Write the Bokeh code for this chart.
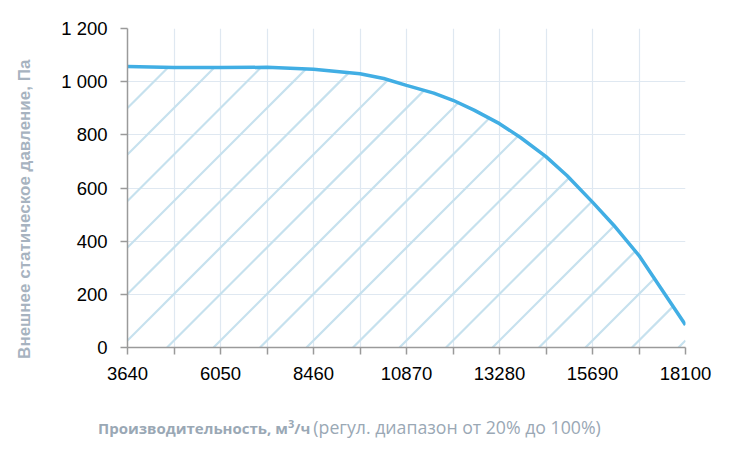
import numpy as np
from bokeh.plotting import figure
from bokeh.models import FixedTicker, Div
from bokeh.layouts import column
from bokeh.embed import file_html
from bokeh.resources import INLINE

# ---- data ----
flow = [3640, 4845, 6050, 7255, 8460, 9665, 10280, 10870, 11577, 12075, 12621,
        13280, 13824, 14485, 15033, 15690, 16240, 16895, 17450, 18100]
pressure = [1057, 1053, 1053, 1054, 1047, 1030, 1012, 986, 957, 930, 893,
            842, 790, 718, 646, 547, 460, 346, 226, 85]
x_ticks = [3640, 4845, 6050, 7255, 8460, 9665, 10870, 12075, 13280, 14485, 15690, 16895, 18100]
x_labels = ["3640", "", "6050", "", "8460", "", "10870", "", "13280", "", "15690", "", "18100"]
y_ticks = [0, 200, 400, 600, 800, 1000, 1200]
y_labels = ["0", "200", "400", "600", "800", "1 000", "1 200"]
y_title = "Внешнее статическое давление, Па"
x_title_bold = "Производительность, м"
x_title_sup = "3"
x_title_bold2 = "/ч"
x_title_regular = "(регул. диапазон от 20% до 100%)"

FW, FH = 558, 319          # frame size in px
x0, x1 = x_ticks[0], x_ticks[-1]
y0, y1 = y_ticks[0], y_ticks[-1]
kx = (x1 - x0) / FW        # data units per px
ky = (y1 - y0) / FH

p = figure(width=714, height=395, frame_width=FW, frame_height=FH,
           x_range=(x0, x1), y_range=(y0, y1),
           output_backend="svg", toolbar_location=None,
           min_border_left=127, min_border_right=29, min_border_top=28, min_border_bottom=48)
p.outline_line_color = None
p.background_fill_color = "white"

grid_col = "#dfe8f1"
axis_col = "#9a9a9a"

p.xaxis.ticker = FixedTicker(ticks=x_ticks)
p.xaxis.major_label_overrides = {t: l for t, l in zip(x_ticks, x_labels)}
p.yaxis.ticker = FixedTicker(ticks=y_ticks)
p.yaxis.major_label_overrides = {t: l for t, l in zip(y_ticks, y_labels)}

for ax in (p.xaxis, p.yaxis):
    ax.axis_line_color = axis_col
    ax.axis_line_width = 1.5
    ax.major_tick_line_color = axis_col
    ax.major_tick_line_width = 1.5
    ax.major_tick_out = 7
    ax.major_tick_in = 0
    ax.minor_tick_line_color = None
    ax.major_label_text_font = "Liberation Sans"
    ax.major_label_text_font_size = "18.5px"
    ax.major_label_text_color = "black"

p.xaxis.major_label_standoff = 12
p.yaxis.major_label_standoff = 13

# trailing no-break spaces shift the rotated title slightly below the frame centre
p.yaxis.axis_label = y_title + "\u00a0" * 9
p.yaxis.axis_label_text_font = "Liberation Sans"
p.yaxis.axis_label_text_font_style = "bold"
p.yaxis.axis_label_text_font_size = "17px"
p.yaxis.axis_label_text_color = "#a7b3c0"
p.yaxis.axis_label_standoff = 24

p.xgrid.ticker = FixedTicker(ticks=x_ticks)
p.ygrid.ticker = FixedTicker(ticks=y_ticks)
p.xgrid.grid_line_color = grid_col
p.ygrid.grid_line_color = grid_col
p.xgrid.grid_line_width = 1.2
p.ygrid.grid_line_width = 1.2

# ---- 45-degree hatch under the curve, clipped by the curve (computed in px space) ----
u = (np.asarray(flow, float) - x0) / kx
v = (np.asarray(pressure, float) - y0) / ky
ug = np.linspace(0, FW, 4000)
fg = np.interp(ug, u, v)
hx0, hy0, hx1, hy1 = [], [], [], []
step = FW / 12.0
for k in range(-8, 14):
    c = k * step - 7
    su, sv = (c, 0.0) if c >= 0 else (0.0, -c)
    if su >= FW or sv >= np.interp(su, u, v):
        continue
    g = fg - (ug - c)
    idx = np.where((g < 0) & (ug >= su))[0]
    if len(idx) == 0:
        eu = FW
    else:
        i = idx[0]
        eu = ug[i - 1] + (ug[i] - ug[i - 1]) * g[i - 1] / (g[i - 1] - g[i])
    ev = eu - c
    hx0.append(x0 + su * kx); hy0.append(y0 + sv * ky)
    hx1.append(x0 + eu * kx); hy1.append(y0 + ev * ky)

p.segment(x0=hx0, y0=hy0, x1=hx1, y1=hy1, line_color="#c6e1ee", line_width=2.2)
p.line(x=flow, y=pressure, line_color="#41aee4", line_width=3.5)

# ---- x axis title as rich text ----
html = (
    '<div style="font-family:\'Open Sans\',sans-serif;color:#9aa8b5;white-space:nowrap;">'
    f'<span style="font-weight:bold;font-size:15px;">{x_title_bold}'
    f'<sup style="font-size:11px;">{x_title_sup}</sup>{x_title_bold2}</span> '
    f'<span style="font-size:17.7px;">{x_title_regular}</span></div>'
)
div = Div(text=html, width=620, height=40, margin=(20, 0, 0, 98))

open("out.html", "w").write(file_html(column(p, div), INLINE))
